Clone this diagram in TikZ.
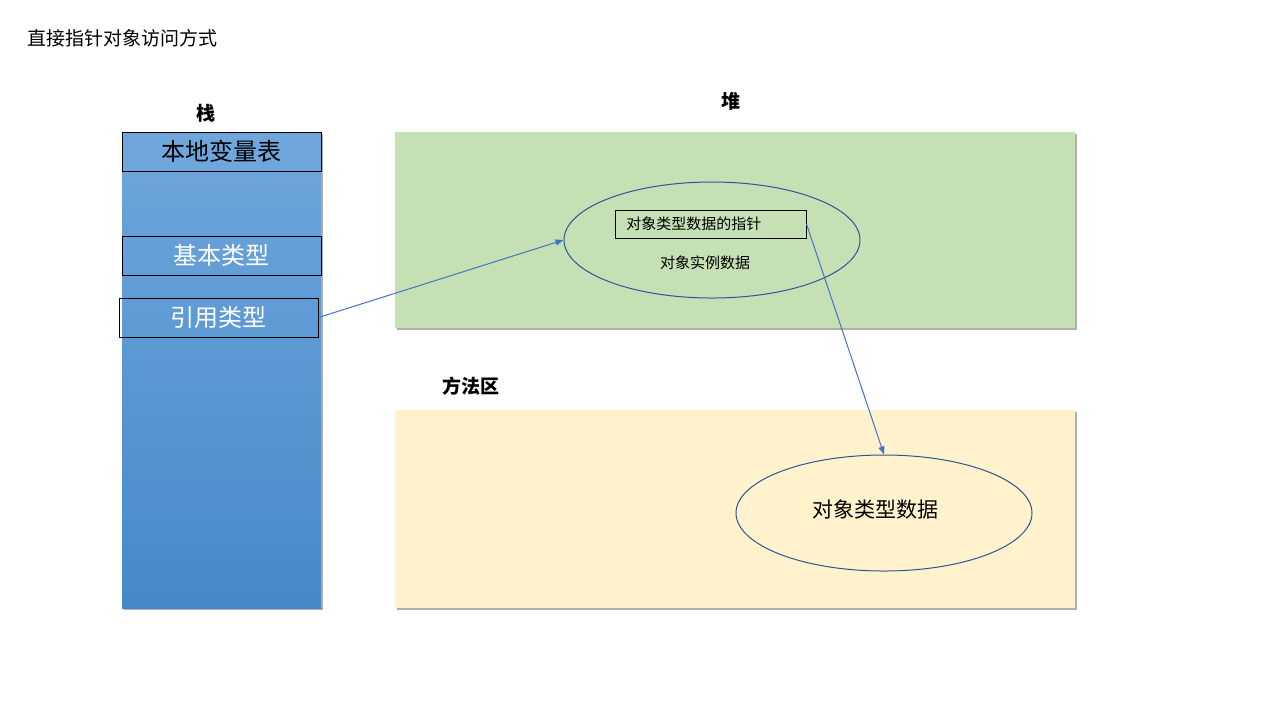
\documentclass[tikz,border=0pt]{standalone}
\usepackage{fontspec}
\setmainfont{Noto Sans CJK SC}
\usetikzlibrary{arrows.meta,shapes.geometric,shadows}

\definecolor{stacktop}{HTML}{6FA6DC}
\definecolor{stackbot}{HTML}{4689C9}
\definecolor{heapfill}{HTML}{C5E0B4}
\definecolor{methfill}{HTML}{FFF2CC}
\definecolor{linkblue}{HTML}{4472C4}
\definecolor{ringblue}{HTML}{2F5597}

\begin{document}
\begin{tikzpicture}[x=0.5pt,y=-0.5pt,>={Triangle[length=4pt,width=3pt]}]

% Stili
\tikzset{panelshadow/.style={drop shadow={opacity=0.45,fill=black!70,shadow xshift=1pt,shadow yshift=-1.2pt}},
  slotbox/.style={draw=black,line width=0.5pt,minimum width=99.5pt,minimum height=19.5pt,inner sep=0pt,font=\fontsize{12}{14}\selectfont},
  region/.style={font=\fontsize{9.5}{11}\bfseries\selectfont},
  blob/.style={ellipse,draw=ringblue,line width=0.5pt,minimum width=148pt,minimum height=58pt,inner sep=0pt},
  link/.style={->,draw=linkblue,line width=0.5pt}}

\useasboundingbox (0,0) rectangle (1280,720);

% --- Titolo ---
\node[anchor=west,inner sep=0pt,font=\fontsize{9.5}{11}\selectfont] (title) at (27,38) {直接指针对象访问方式};

% --- Pila ---
\node[region] (stacklbl) at (206,113) {栈};
\path[panelshadow,top color=stacktop,bottom color=stackbot] (122,132) rectangle (321,608);
\node[slotbox,fill=stacktop] (locals) at (221.5,151.5) {本地变量表};
\node[slotbox,text=white] (prim) at (221.5,255.5) {基本类型};
\node[slotbox,text=white] (ref) at (218.5,317.5) {引用类型};

% --- Heap ---
\node[region] (heaplbl) at (731,101) {堆};
\path[panelshadow,fill=heapfill] (395,132) rectangle (1075,328);
\node[blob] (obj) at (712,240) {};
\node[draw=black,line width=0.5pt,minimum width=95.5pt,minimum height=14pt,inner sep=0pt] (ptr) at (710.5,224) {};
\node[anchor=west,inner sep=0pt,font=\fontsize{7.5}{9}\selectfont] (ptrtxt) at (626,224) {对象类型数据的指针};
\node[font=\fontsize{7.5}{9}\selectfont] (objtxt) at (705,263) {对象实例数据};

% --- Area dei metodi ---
\node[region] (methlbl) at (471,386) {方法区};
\path[panelshadow,fill=methfill] (395,410) rectangle (1075,608);
\node[blob] (cls) at (884,513) {};
\node[font=\fontsize{10.5}{12}\selectfont] (clstxt) at (875,509) {对象类型数据};

% Frecce
\draw[link] (ref.east) -- (obj.west);
\draw[link] (ptr.east) -- (cls.north);
\end{tikzpicture}
\end{document}
